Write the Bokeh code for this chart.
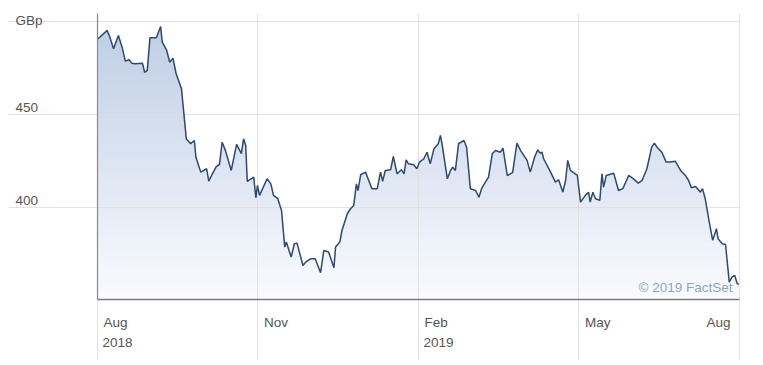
import numpy as np
from bokeh.plotting import figure
from bokeh.models import FixedTicker, Label, Range1d
from bokeh.embed import file_html
from bokeh.resources import INLINE

# ---- data (months since start of Aug 2018, price in GBp) ----
months = [0.01, 0.18, 0.22, 0.30, 0.39, 0.46, 0.52, 0.59, 0.64, 0.70,
          0.84, 0.88, 0.93, 0.98, 1.10, 1.18, 1.21, 1.29, 1.35, 1.41,
          1.47, 1.57, 1.66, 1.74, 1.81, 1.84, 1.93, 2.04, 2.08, 2.14,
          2.22, 2.28, 2.33, 2.39, 2.50, 2.60, 2.69, 2.73, 2.77, 2.80,
          2.92, 2.96, 2.99, 3.03, 3.17, 3.24, 3.29, 3.37, 3.44, 3.50,
          3.53, 3.62, 3.68, 3.73, 3.84, 3.89, 3.98, 4.07, 4.17, 4.23,
          4.32, 4.42, 4.45, 4.53, 4.57, 4.67, 4.73, 4.79, 4.84, 4.87,
          4.92, 5.01, 5.13, 5.23, 5.29, 5.33, 5.38, 5.48, 5.53, 5.60,
          5.68, 5.73, 5.77, 5.81, 5.91, 5.97, 6.02, 6.10, 6.16, 6.22,
          6.29, 6.37, 6.41, 6.44, 6.54, 6.60, 6.64, 6.69, 6.75, 6.85,
          6.90, 6.97, 7.07, 7.13, 7.18, 7.25, 7.31, 7.38, 7.44, 7.53,
          7.58, 7.66, 7.76, 7.84, 7.91, 8.03, 8.09, 8.17, 8.23, 8.27,
          8.31, 8.34, 8.47, 8.56, 8.62, 8.70, 8.75, 8.79, 8.84, 8.97,
          9.03, 9.12, 9.18, 9.21, 9.26, 9.31, 9.39, 9.43, 9.46, 9.51,
          9.65, 9.74, 9.82, 9.93, 10.02, 10.11, 10.18, 10.27, 10.36, 10.41,
          10.46, 10.55, 10.63, 10.71, 10.80, 10.90, 10.99, 11.05, 11.10, 11.18,
          11.27, 11.31, 11.36, 11.43, 11.50, 11.57, 11.60, 11.68, 11.74, 11.81,
          11.86, 11.91, 11.96, 11.99]

prices = [490.7, 495.2, 492.5, 485.3, 492.5, 486.2, 478.7, 479.4, 477.6, 477.3,
          477.6, 472.7, 473.7, 491.2, 491.2, 497.3, 488.9, 484.8, 478.1, 480.3,
          471.9, 463.8, 436.9, 434.3, 436.0, 427.0, 419.0, 420.8, 414.1, 417.7,
          422.0, 423.1, 435.1, 430.7, 419.9, 433.9, 428.9, 436.9, 433.3, 414.0,
          416.3, 405.2, 411.8, 406.5, 415.4, 412.7, 406.5, 404.7, 398.4, 378.7,
          381.4, 373.3, 380.5, 380.8, 368.8, 370.6, 372.4, 372.4, 364.9, 376.9,
          376.0, 367.6, 378.7, 381.4, 387.6, 396.6, 399.3, 401.1, 412.7, 409.1,
          417.6, 419.0, 410.1, 410.1, 419.0, 414.1, 419.9, 420.3, 427.4, 418.1,
          420.3, 418.1, 425.6, 423.5, 423.0, 420.8, 424.4, 426.2, 429.7, 423.5,
          431.6, 434.3, 438.7, 434.3, 415.4, 419.9, 421.7, 419.9, 434.3, 436.0,
          432.4, 410.1, 409.1, 405.5, 410.1, 413.6, 416.3, 428.9, 430.6, 429.7,
          431.9, 417.2, 418.7, 434.6, 430.6, 425.3, 419.0, 427.0, 431.0, 429.2,
          429.7, 426.2, 419.0, 413.6, 414.9, 408.2, 414.5, 425.3, 419.9, 417.2,
          402.9, 406.5, 408.2, 402.9, 408.2, 404.7, 403.8, 418.1, 410.9, 417.2,
          418.4, 409.1, 410.1, 417.2, 415.4, 413.1, 414.5, 420.8, 432.4, 434.6,
          432.4, 429.7, 424.4, 424.4, 424.9, 419.9, 417.2, 414.5, 410.6, 411.3,
          408.2, 410.1, 404.7, 393.0, 382.3, 388.6, 383.2, 380.5, 380.1, 359.8,
          362.5, 363.5, 359.0, 358.6]

x_ticks = [0, 3, 6, 9, 12]
x_tick_labels = ["Aug", "Nov", "Feb", "May", "Aug"]
x_year_labels = ["2018", "", "2019", "", ""]
y_ticks = [400, 450, 500]
y_tick_labels = ["400", "450", "GBp"]
watermark = "\u00a9 2019 FactSet"

# ---- layout ----
W, H = 755, 365
ML, MR, MT, MB = 8, 15, 13, 5
x_lo, x_hi = -1.664, 12.02
y_base, y_hi = 350.5, 504.3          # value at the bottom axis line / top of plot area
plot_h = 286                          # px of the plotted value band
tick_strip = 51                       # px the vertical lines run below the axis
frame_below = H - MT - MB - plot_h    # px of frame below the axis line
px_y = plot_h / (y_hi - y_base)
y_lo = y_base - frame_below / px_y
px_x = (W - ML - MR) / (x_hi - x_lo)
lift = 5                              # px correction for text placement

FONT = "Liberation Sans"
FS = "13.5px"
TXT = "#555555"

p = figure(width=W, height=H, x_range=Range1d(x_lo, x_hi), y_range=Range1d(y_lo, y_hi),
           output_backend="svg", toolbar_location=None,
           min_border_left=ML, min_border_right=MR, min_border_top=MT, min_border_bottom=MB)
p.title.visible = False
p.outline_line_color = None
p.background_fill_color = "white"
p.xaxis.visible = False
p.yaxis.visible = False

p.xgrid.ticker = FixedTicker(ticks=x_ticks)
p.xgrid.bounds = (y_base - tick_strip / px_y, y_hi)
p.ygrid.ticker = FixedTicker(ticks=y_ticks)
for g in (p.xgrid[0], p.ygrid[0]):
    g.grid_line_color = "#dedede"
    g.grid_line_alpha = 0.85
    g.grid_line_width = 1
    g.level = "guide"

# ---- gradient area ----
xs = np.array(months)
ys = np.array(prices)
top_c = np.array([188, 204, 228])
bot_c = np.array([250, 251, 254])
n = 60
levels = np.linspace(y_base, y_hi, n + 1)
for i in range(n, 0, -1):
    mid = 0.5 * (levels[i - 1] + levels[i])
    t = (mid - y_base) / (y_hi - y_base)
    c = bot_c + (top_c - bot_c) * t
    col = "#%02x%02x%02x" % tuple(int(round(v)) for v in c)
    p.varea(x=xs, y1=np.full_like(ys, y_base), y2=np.minimum(ys, levels[i]), fill_color=col)

# axis lines (left and bottom)
p.segment(x0=[x_ticks[0]], y0=[y_base], x1=[x_ticks[0]], y1=[y_hi], line_color="#8a8a8a",
          line_width=1.2, level="overlay")
p.segment(x0=[x_ticks[0]], y0=[y_base], x1=[x_ticks[-1]], y1=[y_base], line_color="#7a7a7a",
          line_width=1.6, level="overlay")

# price line
p.line(xs, ys, line_color="#2d4a70", line_width=1.5, level="overlay")

# ---- y tick labels ----
for i, (v, lab) in enumerate(zip(y_ticks, y_tick_labels)):
    dy = 2 if i < len(y_ticks) - 1 else -4
    p.add_layout(Label(x=x_lo + 7 / px_x, y=v + (dy + lift) / px_y, text=lab, text_font=FONT,
                       text_font_size=FS, text_color=TXT, text_baseline="alphabetic",
                       text_align="left"))

# ---- x tick labels ----
for i, (t, lab, yr) in enumerate(zip(x_ticks, x_tick_labels, x_year_labels)):
    last = i == len(x_ticks) - 1
    lx = t - 9 / px_x if last else t + 6 / px_x
    al = "right" if last else "left"
    p.add_layout(Label(x=lx, y=y_base - (28 - lift) / px_y, text=lab, text_font=FONT,
                       text_font_size=FS, text_color=TXT, text_baseline="alphabetic",
                       text_align=al))
    if yr:
        p.add_layout(Label(x=t + 5 / px_x, y=y_base - (48 - lift) / px_y, text=yr, text_font=FONT,
                           text_font_size=FS, text_color=TXT, text_baseline="alphabetic",
                           text_align="left"))

# watermark
p.add_layout(Label(x=x_ticks[-1] - 7 / px_x, y=y_base + (7 + lift) / px_y, text=watermark,
                   text_font=FONT, text_font_size=FS, text_color="#8ca5cd",
                   text_baseline="alphabetic", text_align="right"))

open("out.html", "w").write(file_html(p, INLINE))
